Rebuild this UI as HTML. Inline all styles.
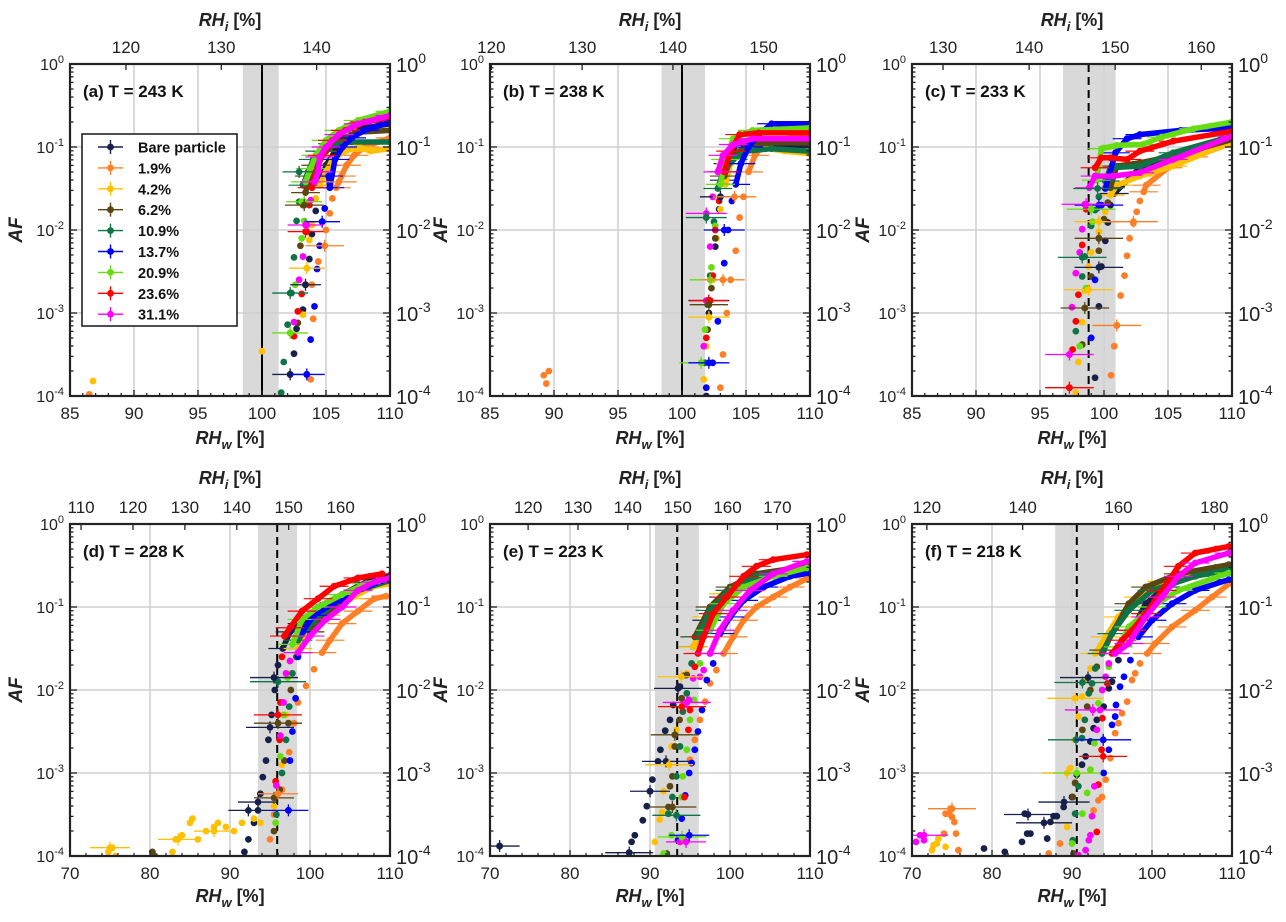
<!DOCTYPE html>
<html><head><meta charset="utf-8"><style>
html,body{margin:0;padding:0;background:#fff;}
svg{display:block;font-family:"Liberation Sans",Arial,sans-serif;}
</style></head><body>
<svg id="fig" width="1286" height="922" viewBox="0 0 1286 922" xmlns="http://www.w3.org/2000/svg"></svg>
<script>
const seriesNames = ["Bare particle","1.9%","4.2%","6.2%","10.9%","13.7%","20.9%","23.6%","31.1%"];
const seriesColors = ["#16204a","#ff7f27","#ffc000","#5a4613","#0e7346","#0000ff","#66dd11","#ff0000","#ff00ff"];
const panelLabels = ["(a) T = 243 K","(b) T = 238 K","(c) T = 233 K","(d) T = 228 K","(e) T = 223 K","(f) T = 218 K"];
const rhwDomains = [[85,110],[85,110],[85,110],[70,110],[70,110],[70,110]];
const rhwTicks = [[85,90,95,100,105,110],[85,90,95,100,105,110],[85,90,95,100,105,110],[70,80,90,100,110],[70,80,90,100,110],[70,80,90,100,110]];
const rhiRatios = [1.3427,1.410,1.487,1.541,1.605,1.670];
const rhiTicks = [[120,130,140],[120,130,140,150],[130,140,150,160],[110,120,130,140,150,160],[120,130,140,150,160,170],[120,140,160,180]];
const iceLine = [100,100,98.8,95.9,93.4,90.6];
const iceLineDashed = [false,false,true,true,true,true];
const shadeLo = [98.5,98.4,96.8,93.5,90.6,87.9];
const shadeHi = [101.3,101.8,100.9,98.4,96.1,94.0];
const afDecades = [0,-1,-2,-3,-4];

const dataA = [
 [[102.2,-3.74],[102.5,-3.49],[102.7,-3.19],[103.2,-2.96],[103.4,-2.66],[103.7,-2.35],[103.9,-2.05],[104.2,-1.77],[104.5,-1.46],[105,-1.22],[105.7,-1.05],[106.5,-0.89],[108,-0.77],[110,-0.72]],
 [[86.5,-3.98],[103.8,-3.8],[104,-3.07],[103.9,-2.66],[104.4,-2.38],[104.9,-2.19],[105,-2],[105.3,-1.8],[105.5,-1.62],[105.8,-1.49],[106.2,-1.35],[106.6,-1.22],[107.2,-1.1],[108,-1.0],[110,-0.89]],
 [[86.8,-3.82],[100,-3.46],[103.2,-3.02],[103.5,-2.46],[103.7,-2.12],[103.9,-1.94],[104.2,-1.62],[104.5,-1.46],[105,-1.3],[105.5,-1.15],[106.5,-1.05],[107.5,-1.0],[108.5,-1.05],[110,-1.02]],
 [[102.8,-3.12],[103,-2.19],[103.2,-1.7],[103.4,-1.55],[103.7,-1.35],[104.2,-1.22],[105,-1.05],[106,-0.92],[107.5,-0.82],[110,-0.8]],
 [[101.5,-3.96],[101.7,-3.59],[102,-3.14],[102.3,-2.76],[102.5,-2.33],[102.7,-1.89],[102.9,-1.66],[103.2,-1.46],[103.6,-1.3],[104,-1.15],[104.5,-1.05],[105.5,-0.96],[107,-0.94],[110,-0.94]],
 [[103.5,-3.74],[103.8,-3.32],[104.1,-2.92],[104.3,-2.47],[104.5,-2.19],[104.7,-1.9],[104.9,-1.74],[105.3,-1.49],[105.2,-1.35],[105.7,-1.15],[106.3,-1.0],[107,-0.89],[108,-0.8],[110,-0.7]],
 [[102.2,-3.24],[102.6,-2.66],[103.1,-2.1],[103.3,-1.89],[103.1,-1.66],[103.4,-1.42],[103.8,-1.26],[104.2,-1.1],[105,-0.92],[106,-0.8],[107.5,-0.68],[110,-0.57]],
 [[102.5,-3.28],[102.8,-2.98],[103.1,-2.77],[103.4,-2.66],[103.5,-2.02],[103.7,-1.7],[103.9,-1.49],[104.2,-1.3],[104.7,-1.1],[105.5,-0.92],[106.5,-0.8],[108,-0.7],[110,-0.64]],
 [[102.5,-3.11],[102.9,-2.6],[103.2,-2.32],[103.5,-1.94],[103.8,-1.64],[104.1,-1.42],[104.4,-1.3],[104.5,-1.12],[105,-1.0],[106,-0.85],[107.5,-0.72],[110,-0.62]]
];
const dataB = [
 [[101.9,-4],[102.1,-3],[102.3,-2.6],[102.6,-2.2],[102.9,-1.75],[103.3,-1.4],[103.6,-1.2],[104.2,-1.05],[106,-1.0],[110,-0.98]],
 [[89.2,-3.75],[89.6,-3.7],[89.4,-3.85],[103,-3.9],[103.2,-3.5],[103.5,-3.0],[103.8,-2.6],[104.2,-2.25],[104.5,-1.85],[104.8,-1.6],[105.2,-1.3],[105.7,-1.1],[106.5,-0.95],[110,-0.85]],
 [[101.7,-3.8],[101.9,-3.4],[102.1,-3.05],[102.4,-2.6],[102.7,-2.1],[103,-1.75],[103.4,-1.45],[103.8,-1.2],[104.5,-1.05],[106,-1.0],[108,-1.05],[110,-1.08]],
 [[102.0,-3.2],[102.3,-2.7],[102.6,-2.1],[103.0,-1.6],[103.3,-1.35],[103.8,-1.15],[105,-0.98],[107,-0.95],[110,-0.95]],
 [[101.8,-3.6],[102.0,-2.9],[102.2,-2.55],[102.5,-1.9],[102.8,-1.5],[103.2,-1.3],[104,-1.15],[105,-1.05],[107,-1.02],[110,-1.05]],
 [[101.9,-3.9],[102.4,-3.6],[102.8,-3.1],[103.3,-2.4],[103.6,-2.0],[103.9,-1.65],[104.2,-1.45],[104.6,-1.2],[105.2,-1.0],[106,-0.85],[107,-0.72],[110,-0.72]],
 [[101.5,-3.6],[101.8,-3.2],[102.0,-2.85],[102.3,-2.45],[102.6,-1.95],[103,-1.45],[103.4,-1.15],[104,-0.9],[105.5,-0.8],[110,-0.77]],
 [[101.9,-3.3],[102.2,-2.85],[102.4,-2.55],[102.6,-2.0],[102.9,-1.65],[103.3,-1.3],[103.8,-1.05],[104.5,-0.85],[106,-0.83],[110,-0.83]],
 [[101.7,-3.4],[101.9,-2.85],[102.2,-2.2],[102.4,-1.6],[102.8,-1.3],[103.2,-1.1],[104,-0.97],[105.5,-0.9],[110,-0.9]]
];
const dataC = [
 [[99.3,-3.78],[99.6,-2.92],[99.8,-2.44],[100.1,-2.13],[100.3,-1.91],[100.5,-1.7],[100.8,-1.56],[102.8,-1.25],[105.4,-1.15],[110,-0.91]],
 [[100.55,-3.75],[100.8,-3.4],[101.0,-3.15],[101.3,-2.79],[101.6,-2.55],[101.8,-2.31],[102.0,-2.1],[102.3,-1.92],[102.55,-1.78],[102.8,-1.65],[103.1,-1.54],[103.3,-1.46],[105,-1.25],[107,-1.12],[110,-0.95]],
 [[97.8,-3.96],[98.0,-3.59],[98.3,-3.11],[98.5,-2.73],[98.8,-2.44],[99.0,-2.27],[99.6,-2.02],[100.1,-1.78],[100.5,-1.58],[101.0,-1.46],[102.8,-1.35],[105.4,-1.23],[110,-0.94]],
 [[98.3,-3.38],[98.5,-2.94],[99.0,-2.56],[99.6,-2.25],[100.0,-1.87],[100.3,-1.67],[100.5,-1.49],[101.0,-1.23],[102.8,-1.19],[105.4,-1.11],[110,-0.91]],
 [[97.8,-3.22],[98.3,-2.56],[98.5,-2.32],[99.0,-1.95],[99.3,-1.76],[99.6,-1.6],[100.1,-1.41],[100.5,-1.25],[102.8,-1.23],[105.4,-1.07],[110,-0.87]],
 [[99.0,-3.3],[99.3,-2.6],[99.6,-2.1],[99.8,-1.7],[100.1,-1.5],[100.9,-1.07],[101.8,-0.9],[102.8,-0.85],[106,-0.8],[110,-0.77]],
 [[98.1,-3.4],[98.6,-2.7],[99.1,-1.9],[99.4,-1.4],[99.8,-1.02],[101,-0.98],[103,-0.97],[104.5,-0.88],[107,-0.78],[110,-0.7]],
 [[97.3,-3.9],[97.55,-3.44],[97.8,-3.1],[98.0,-2.78],[98.3,-2.18],[98.6,-1.75],[99.3,-1.25],[99.8,-1.13],[100.5,-1.13],[101.8,-1.15],[102.8,-1.05],[105.4,-0.93],[110,-0.81]],
 [[97.3,-3.5],[97.5,-2.93],[97.8,-2.52],[98.1,-2.27],[98.3,-1.99],[98.5,-1.69],[98.85,-1.49],[99.3,-1.35],[100.7,-1.35],[102.8,-1.31],[105.4,-1.15],[110,-0.87]]
];
const dataD = [
 [[91.8,-3.95],[92.3,-3.8],[93,-3.6],[93.5,-3.45],[93.8,-3.25],[94.1,-3.05],[94.5,-2.85],[94.8,-2.6],[95.2,-2.3],[95.6,-2.0],[96,-1.7],[96.6,-1.5],[97.5,-1.3],[99,-1.2],[101,-1.0],[104,-0.85],[107,-0.7],[110,-0.62]],
 [[95,-3.8],[95.5,-3.5],[96.5,-3.2],[97.4,-2.75],[98,-2.4],[98.5,-2.15],[99.5,-1.95],[100.5,-1.75],[101.5,-1.55],[102.5,-1.4],[104,-1.2],[106,-1.05],[108,-0.9],[109.5,-0.87]],
 [[74.8,-3.95],[75.3,-3.9],[75.7,-4],[82.8,-3.95],[83.2,-3.8],[84,-3.75],[85,-3.6],[85.3,-3.55],[86,-3.8],[87,-3.7],[88,-3.65],[88.5,-3.6],[89.5,-3.65],[90.5,-3.7],[91.5,-3.6],[93,-3.55],[93.8,-3.6],[95.5,-3.4],[96.5,-2.9],[97,-2.3],[97.5,-1.8],[98.5,-1.5],[100,-1.3],[102,-1.1],[105,-0.9],[108,-0.75],[110,-0.72]],
 [[80.3,-3.95],[80.6,-4],[95.5,-3.7],[96.2,-3.2],[96.8,-2.85],[97.3,-2.4],[97.6,-2.0],[98.3,-1.6],[100,-1.3],[103,-1.0],[106,-0.8],[110,-0.68]],
 [[95.8,-3.5],[96.5,-3.0],[97,-2.6],[97.4,-2.2],[97.8,-1.8],[98.5,-1.4],[100,-1.2],[103,-0.95],[106,-0.8],[110,-0.68]],
 [[97.3,-3.45],[97.5,-2.85],[97.8,-2.5],[98.2,-2.1],[98.5,-1.6],[99,-1.3],[100.5,-1.1],[103,-0.95],[106,-0.8],[110,-0.65]],
 [[95.7,-3.6],[96.3,-2.8],[96.7,-2.3],[97.2,-1.85],[97.8,-1.45],[99,-1.15],[101,-1.0],[104,-0.85],[107,-0.72],[110,-0.65]],
 [[95.7,-3.1],[96.2,-2.6],[96.3,-2.15],[96.5,-1.6],[96.8,-1.35],[97.5,-1.25],[99,-1.05],[101,-0.9],[103,-0.75],[106,-0.65],[109,-0.6]],
 [[95.8,-3.15],[96.3,-2.55],[96.7,-2.15],[97,-1.8],[97.5,-1.65],[98.5,-1.55],[100,-1.35],[102,-1.15],[104,-1.0],[106,-0.8],[108,-0.7],[110,-0.65]]
];
const dataE = [
 [[71.2,-3.88],[87.4,-3.96],[87.7,-3.83],[88.1,-3.75],[89.1,-3.57],[89.6,-3.4],[90,-3.22],[90.3,-3.08],[91.0,-2.86],[91.3,-2.72],[91.9,-2.49],[92.5,-2.36],[92.9,-2.18],[93.75,-1.96],[94.4,-1.82],[95.4,-1.48],[97.1,-1.16],[99.2,-0.88],[103.3,-0.63],[109.6,-0.51]],
 [[95,-2.84],[95.6,-2.6],[96.25,-2.36],[96.9,-2.14],[97.5,-1.92],[98.3,-1.76],[99.2,-1.56],[100.4,-1.36],[101.7,-1.16],[103.3,-1.0],[105.4,-0.88],[107.5,-0.76],[109.8,-0.65]],
 [[90.6,-3.83],[91.2,-3.56],[91.5,-3.47],[91.7,-3.22],[92.4,-2.9],[92.7,-2.68],[93.3,-2.48],[93.96,-2.2],[94.6,-1.8],[95.4,-1.48],[97.1,-1.12],[99.2,-0.84],[103.3,-0.67],[109.6,-0.55]],
 [[92.1,-3.97],[92.3,-3.41],[92.5,-3.16],[92.8,-3.04],[93.1,-2.68],[93.7,-2.36],[93.96,-2.1],[94.6,-1.82],[95.6,-1.36],[97.5,-1.0],[100,-0.76],[103.3,-0.6],[109.6,-0.51]],
 [[92,-3.99],[92.3,-3.49],[92.8,-3.29],[93.3,-3.04],[93.75,-2.68],[94.1,-2.26],[94.6,-2.04],[95.2,-1.68],[96,-1.36],[97.5,-1.04],[100,-0.8],[103.3,-0.63],[109.6,-0.53]],
 [[93.5,-3.81],[93.96,-3.55],[94.4,-3.27],[94.9,-3.0],[95.2,-2.88],[95.6,-2.72],[96.0,-2.5],[96.5,-2.24],[97.1,-1.88],[97.9,-1.68],[98.75,-1.32],[100,-1.12],[101.7,-0.92],[104.2,-0.76],[107.5,-0.63],[109.8,-0.59]],
 [[91.7,-3.97],[92.7,-3.75],[93.3,-3.51],[93.96,-3.29],[94.1,-3.04],[94.6,-2.72],[95,-2.36],[95.5,-2.12],[96.25,-1.68],[97.5,-1.28],[99.2,-0.96],[101.7,-0.76],[105.4,-0.63],[109.6,-0.53]],
 [[93.75,-3.83],[94.3,-3.29],[94.8,-2.48],[95,-2.24],[95.6,-1.72],[96,-1.56],[96.7,-1.36],[97.9,-1.08],[99.6,-0.88],[101.7,-0.63],[103.3,-0.51],[105.4,-0.43],[109.6,-0.37]],
 [[93.75,-3.83],[94.9,-2.12],[95.4,-1.86],[96.25,-1.84],[96.7,-1.76],[97.5,-1.56],[98.75,-1.28],[100.4,-1.04],[102.5,-0.8],[105.4,-0.6],[109.6,-0.45]]
];
const dataF = [
 [[79,-3.91],[81.6,-3.95],[84.1,-3.49],[83.75,-3.83],[84.4,-3.73],[84.8,-3.73],[86.9,-3.79],[87.3,-3.59],[87.7,-3.52],[88.1,-3.52],[88.96,-3.41],[90,-3.29],[90.4,-3.12],[90.6,-3.02],[91.25,-2.9],[91.7,-2.8],[92.3,-2.62],[92.7,-2.46],[93.1,-2.36],[93.96,-2.2],[94.6,-1.98],[95,-1.9],[95.8,-1.64],[97.5,-1.28],[99.2,-0.96],[101.7,-0.76],[105.4,-0.6],[109.6,-0.51]],
 [[74.2,-3.49],[74.6,-3.49],[74.8,-3.43],[75,-3.53],[75.3,-3.59],[74,-3.73],[75.5,-3.73],[75.8,-3.93],[87.1,-3.97],[88.5,-3.85],[92.7,-3.45],[93.3,-3.33],[93.75,-3.29],[94.2,-3.08],[94.8,-2.82],[95.4,-2.52],[95.8,-2.4],[96.25,-2.28],[96.9,-2.14],[97.5,-1.88],[97.9,-1.8],[98.5,-1.68],[99.4,-1.56],[100.4,-1.44],[102.5,-1.24],[105.4,-1.04],[107.5,-0.88],[109.8,-0.71]],
 [[72.5,-3.93],[72.7,-3.87],[73.3,-3.79],[74.2,-3.89],[73.1,-3.85],[89.4,-3.65],[89.8,-2.94],[90.4,-2.6],[90.8,-2.32],[91.25,-2.08],[91.7,-1.88],[92.3,-1.74],[92.9,-1.56],[94.2,-1.36],[95.8,-1.12],[98.3,-0.88],[101.25,-0.69],[105.4,-0.59],[109.6,-0.55]],
 [[90.2,-3.97],[90.1,-3.29],[90.4,-3.12],[91.3,-2.48],[91.9,-2.2],[92.3,-2.0],[93.1,-1.72],[93.96,-1.52],[95,-1.32],[97.1,-0.96],[99.2,-0.76],[103.3,-0.6],[109.6,-0.49]],
 [[90.1,-3.81],[90.4,-3.49],[90.8,-3.16],[91.25,-2.58],[91.6,-2.36],[92.1,-2.04],[92.5,-1.92],[92.9,-1.74],[93.75,-1.56],[95,-1.32],[97.1,-1.04],[100,-0.8],[105.4,-0.63],[109.6,-0.55]],
 [[93.96,-3.0],[94.6,-2.72],[95,-2.42],[95.4,-2.32],[95.5,-2.18],[96,-1.96],[96.5,-1.84],[97.3,-1.64],[98.3,-1.36],[100,-1.16],[102.5,-0.96],[105.4,-0.8],[109.6,-0.67]],
 [[90,-3.85],[91.3,-3.49],[91.9,-3.24],[92.3,-2.96],[92.8,-2.64],[93.3,-2.16],[93.75,-2.0],[94.6,-1.72],[95.8,-1.48],[97.1,-1.24],[100,-1.0],[103.3,-0.8],[109.6,-0.59]],
 [[93.1,-3.71],[93.3,-3.14],[93.7,-2.72],[93.8,-2.34],[94.4,-1.92],[95,-1.56],[96.25,-1.4],[97.5,-1.28],[99.2,-1.08],[101.25,-0.8],[103.3,-0.51],[105.4,-0.35],[109.6,-0.27]],
 [[70.5,-3.83],[71,-3.75],[71.5,-3.81],[90.8,-3.99],[91.7,-3.93],[92.1,-3.81],[92.3,-3.75],[92.5,-3.52],[92.8,-3.16],[93.1,-2.48],[93.5,-2.24],[93.8,-2.0],[94.2,-1.84],[94.6,-1.68],[95.4,-1.56],[97.1,-1.44],[99.2,-1.12],[101.25,-0.88],[103.3,-0.63],[105.4,-0.47],[109.6,-0.35]]
];
const allData = [dataA,dataB,dataC,dataD,dataE,dataF];
const errA = [[0,102.2,-3.74,1.4],[5,103.5,-3.74,1.4],[6,102.2,-3.24,1.4],[4,102.2,-2.76,1.4],[0,103.4,-2.66,1.2],[2,103.5,-2.46,1.4],[7,103.4,-2.02,1.4],[5,104.7,-1.9,1.4],[8,103.4,-1.94,1.4],[1,104.9,-2.19,1.5],[6,103.3,-1.66,1.4],[3,103.3,-1.7,1.5],[4,102.9,-1.3,1.3],[1,106,-1.42,1.4]];
const errB = [[6,101.5,-3.6,1.7],[5,102.1,-3.6,1.6],[0,102.1,-2.85,1.6],[7,102.1,-2.85,1.5],[3,102.1,-2.9,1.5],[2,102.1,-3.05,1.6],[6,102.2,-2.6,1.6],[1,103.2,-2.6,1.7],[5,103.3,-2.0,1.6],[8,101.9,-1.8,1.6],[4,101.9,-1.85,1.6],[0,103.0,-1.6,1.6],[1,104.1,-1.6,1.7]];
const errC = [[7,97.3,-3.9,1.9],[8,97.3,-3.5,1.9],[1,101.0,-3.15,1.9],[3,98.5,-2.94,1.9],[2,98.8,-2.72,1.9],[0,99.6,-2.45,1.9],[4,98.3,-2.33,1.9],[3,99.6,-2.1,1.9],[2,99.6,-1.9,1.9],[1,102.3,-1.9,1.9],[5,99.6,-1.7,1.9],[6,99.0,-1.75,1.9],[8,98.6,-1.69,1.9],[4,99.5,-1.5,1.9]];
const errD = [[0,92.3,-3.45,2.5],[0,93.5,-3.35,2.5],[2,75,-3.9,2.5],[2,83.5,-3.8,2.5],[2,88,-3.7,2.5],[5,97.3,-3.45,2.5],[3,95.5,-3.3,2.5],[1,96,-3.25,2.5],[0,95,-2.45,3],[7,96,-2.3,3],[3,96,-2.4,3],[4,96,-1.9,3.5],[0,95.5,-1.85,3]];
const errE = [[0,71.2,-3.88,2.5],[0,87.4,-3.96,3],[0,90,-3.22,2.5],[0,92,-2.86,3],[3,92.8,-3.41,3],[4,93.3,-3.51,3],[2,92.4,-2.9,3],[6,94,-3.77,3],[8,94.5,-3.83,2.5],[5,94.9,-3.75,2.5],[3,93.1,-2.54,3],[7,94,-2.2,3],[8,94.6,-2.15,3],[0,93.5,-1.98,3],[2,93.9,-1.84,3]];
const errF = [[1,75,-3.43,3],[8,71.5,-3.75,3],[0,84.5,-3.5,3],[0,86.5,-3.6,3.5],[0,89,-3.35,3.2],[2,89.4,-3.0,3.2],[6,90.6,-3.0,3],[4,90.5,-2.6,3.5],[5,93.9,-2.6,3.5],[7,93.9,-2.8,3],[8,92.6,-2.24,3.5],[2,90.4,-2.1,3.5],[4,91.3,-1.91,3.5],[0,92,-1.85,3.5]];
const allErr = [errA,errB,errC,errD,errE,errF];

const NS = "http://www.w3.org/2000/svg";
const svg = document.getElementById("fig");
function mk(tag, attrs, parent){ const e=document.createElementNS(NS,tag); for(const k in attrs) e.setAttribute(k,attrs[k]); (parent||svg).appendChild(e); return e; }

const panelLefts = [70,490,912,70,490,912];
const panelTops = [64,64,64,524,524,524];
const PW = 320, PH = 332;

for (let p=0;p<6;p++){
  const L=panelLefts[p], T=panelTops[p], R=L+PW, B=T+PH;
  const d0=rhwDomains[p][0], d1=rhwDomains[p][1];
  const xs = v => L + (v-d0)/(d1-d0)*PW;
  const ys = lg => T + (-lg)/4*PH;
  const g = mk("g",{});
  
  
  const clipId="clip"+p;
  const cp = mk("clipPath",{id:clipId},g); mk("rect",{x:L,y:T,width:PW,height:PH},cp);
  const sh = mk("rect",{x:xs(shadeLo[p]),y:T,width:xs(shadeHi[p])-xs(shadeLo[p]),height:PH,fill:"#d9d9d9"},g);
  
  
  const grid = mk("g",{stroke:"#d0d0d0","stroke-width":1.6},g);
  
  
  rhwTicks[p].forEach(v=>{ if(v>d0&&v<d1) mk("line",{x1:xs(v),x2:xs(v),y1:T,y2:B},grid); });
  afDecades.forEach(k=>{ if(k<0&&k>-4) mk("line",{x1:L,x2:R,y1:ys(k),y2:ys(k)},grid); });
  const il = mk("line",{x1:xs(iceLine[p]),x2:xs(iceLine[p]),y1:T,y2:B,stroke:"#000","stroke-width":2,"stroke-dasharray":iceLineDashed[p]?"8,5":"none"},g);
  
  
  const dg = mk("g",{"clip-path":"url(#"+clipId+")"},g);
  const hwDefault = (d1-d0)/20;
  allData[p].forEach((ser,si)=>{
    const sg = mk("g",{},dg);
    
    
    const col = seriesColors[si];
    const dense = ser.filter(pt=>pt[1]>-1.6).slice().sort((a,b)=>a[0]-b[0]);
    dense.forEach(pt=>{ mk("line",{x1:xs(pt[0]-hwDefault*0.9),x2:xs(pt[0]+hwDefault*0.9),y1:ys(pt[1]),y2:ys(pt[1]),stroke:col,"stroke-width":1.2},sg); });
    if(dense.length>1){
      const path = mk("polyline",{points:dense.map(pt=>xs(pt[0]).toFixed(1)+","+ys(pt[1]).toFixed(1)).join(" "),fill:"none",stroke:col,"stroke-width":5.5,"stroke-linecap":"round","stroke-linejoin":"round"},sg);
      
      
    }
    ser.forEach(pt=>{
      const c = mk("circle",{cx:xs(pt[0]),cy:ys(pt[1]),r:3.4,fill:col},sg);
      
      
    });
  });
  allErr[p].forEach(e=>{
    const col=seriesColors[e[0]];
    const eb = mk("line",{x1:xs(e[1]-e[3]),x2:xs(e[1]+e[3]),y1:ys(e[2]),y2:ys(e[2]),stroke:col,"stroke-width":1.3},dg);
    
    
    mk("line",{x1:xs(e[1]),x2:xs(e[1]),y1:ys(e[2])-6,y2:ys(e[2])+6,stroke:col,"stroke-width":1.3},dg);
    mk("circle",{cx:xs(e[1]),cy:ys(e[2]),r:3.4,fill:col},dg);
  });
  const fr = mk("rect",{x:L,y:T,width:PW,height:PH,fill:"none",stroke:"#222","stroke-width":2.2},g);
  
  
  const tk = mk("g",{stroke:"#222","stroke-width":1.3},g);
  
  
  const step = (d1-d0)>30?2:1;
  for(let v=d0; v<=d1; v+=step){ const isMaj = rhwTicks[p].includes(v); mk("line",{x1:xs(v),x2:xs(v),y1:B,y2:B-(isMaj?6:3)},tk); }
  rhiTicks[p].forEach(v=>{ const x=xs(v/rhiRatios[p]); mk("line",{x1:x,x2:x,y1:T,y2:T+6},tk); });
  for(let k=-4;k<0;k++){ for(let m=1;m<10;m++){ const y=ys(k+Math.log10(m)); const len=m===1?7:3.5; mk("line",{x1:L,x2:L+len,y1:y,y2:y},tk); mk("line",{x1:R,x2:R-len,y1:y,y2:y},tk);} }
  rhwTicks[p].forEach(v=>{ const t=mk("text",{x:xs(v),y:B+23,"text-anchor":"middle","font-size":17,fill:"#222"},g); t.textContent=v;
      });
  rhiTicks[p].forEach(v=>{ const t=mk("text",{x:xs(v/rhiRatios[p]),y:T-11,"text-anchor":"middle","font-size":17,fill:"#222"},g); t.textContent=v;
      });
  afDecades.forEach(k=>{
    const t=mk("text",{x:L-6,y:ys(k)+6,"text-anchor":"end","font-size":16,fill:"#222"},g);
     
    const a=mk("tspan",{},t); a.textContent="10";
    const b=mk("tspan",{dy:-7,"font-size":11},t); b.textContent=String(k);
    const t2=mk("text",{x:R+6,y:ys(k)+8,"text-anchor":"start","font-size":20,fill:"#222"},g);
     
    const c=mk("tspan",{},t2); c.textContent="10";
    const d=mk("tspan",{dy:-9,"font-size":14},t2); d.textContent=String(k);
  });
  const xt = mk("text",{x:L+PW/2,y:B+(p<3?48:46),"text-anchor":"middle","font-size":18,"font-weight":"bold",fill:"#222"},g);
   
  let s=mk("tspan",{"font-style":"italic"},xt); s.textContent="RH";
  s=mk("tspan",{"font-style":"italic","font-size":13,dy:5},xt); s.textContent="w";
  s=mk("tspan",{dy:-5},xt); s.textContent=" [%]";
  const tt = mk("text",{x:L+PW/2,y:T-(p<3?38:40),"text-anchor":"middle","font-size":18,"font-weight":"bold",fill:"#222"},g);
   
  s=mk("tspan",{"font-style":"italic"},tt); s.textContent="RH";
  s=mk("tspan",{"font-style":"italic","font-size":13,dy:5},tt); s.textContent="i";
  s=mk("tspan",{dy:-5},tt); s.textContent=" [%]";
  const yt = mk("text",{x:0,y:0,transform:"translate("+(L-(p%3===0?48:43))+","+(T+PH/2)+") rotate(-90)","text-anchor":"middle","font-size":19,"font-weight":"bold","font-style":"italic",fill:"#222"},g);
  yt.textContent="AF";  
  const pl = mk("text",{x:L+13,y:T+33,"font-size":17,"font-weight":"bold",fill:"#111"},g);
  pl.textContent=panelLabels[p];  
}
const lg = mk("g",{});


mk("rect",{x:82,y:134,width:155,height:192,fill:"#fff",stroke:"#222","stroke-width":1.6},lg);
seriesNames.forEach((n,i)=>{
  const y=147+i*20.9;
  const e=mk("g",{},lg);
  
  
  mk("line",{x1:98,x2:123,y1:y,y2:y,stroke:seriesColors[i],"stroke-width":1.4},e);
  mk("line",{x1:110.5,x2:110.5,y1:y-7,y2:y+7,stroke:seriesColors[i],"stroke-width":1.4},e);
  mk("circle",{cx:110.5,cy:y,r:3.4,fill:seriesColors[i]},e);
  const t=mk("text",{x:138,y:y+5.5,"font-size":14.5,"font-weight":"bold",fill:"#111"},e); t.textContent=n;
});
</script>
</body></html>
